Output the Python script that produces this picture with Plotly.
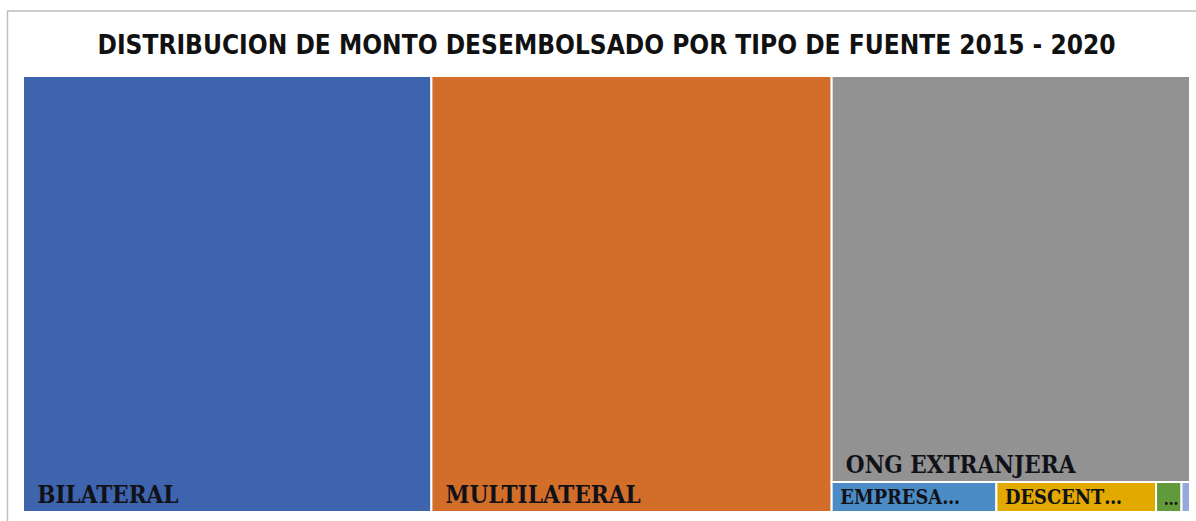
import plotly.graph_objects as go

labels = ["BILATERAL", "MULTILATERAL", "ONG EXTRANJERA", "EMPRESA PRIVADA", "DESCENTRALIZADA", "OTROS", "OTRA FUENTE"]
display = ["BILATERAL", "MULTILATERAL", "ONG EXTRANJERA", "EMPRESA…", "DESCENT…", "…", ""]
values = [35.0, 34.3, 28.6, 0.97, 0.94, 0.15, 0.05]
colors = ["#3D64AC", "#D26D2A", "#929292", "#4C8CC6", "#E2A900", "#619A3A", "#93A8DB"]

templates = ["&nbsp;&#8201;<b>%{text}</b>" if i < 3 else "&nbsp;<b>%{text}</b>" for i in range(len(labels))]

fig = go.Figure(go.Treemap(
    labels=labels,
    parents=[""] * len(labels),
    values=values,
    text=display,
    texttemplate=templates,
    textposition="bottom left",
    textfont=dict(family="DejaVu Serif Condensed, Liberation Serif, serif", size=24, color="#111118"),
    marker=dict(colors=colors, line=dict(color="white", width=2), pad=dict(t=0, l=0, r=0, b=0)),
    tiling=dict(packing="squarify", squarifyratio=1, pad=0),
    sort=True,
    pathbar=dict(visible=False),
    hoverinfo="label+value",
))

fig.update_layout(
    width=1196, height=521,
    margin=dict(l=23, r=6, t=76, b=9),
    paper_bgcolor="white",
    title=dict(
        text="<b>DISTRIBUCION DE MONTO DESEMBOLSADO POR TIPO DE FUENTE 2015 - 2020</b>",
        x=0.5, xref="paper", xanchor="center",
        y=1 - 45 / 521, yref="container", yanchor="middle",
        font=dict(family="Liberation Sans Narrow, DejaVu Sans Condensed, Arial, sans-serif", size=26, color="#111111"),
    ),
    shapes=[dict(type="rect", xref="paper", yref="paper",
                 x0=-0.0133, x1=1.02, y0=-0.06, y1=1.149,
                 line=dict(color="#BFBFBF", width=1.5), fillcolor="rgba(0,0,0,0)", layer="below")],
)

fig.write_html("out.html", config={"displayModeBar": False},
               post_script="document.body.style.margin='0';")
